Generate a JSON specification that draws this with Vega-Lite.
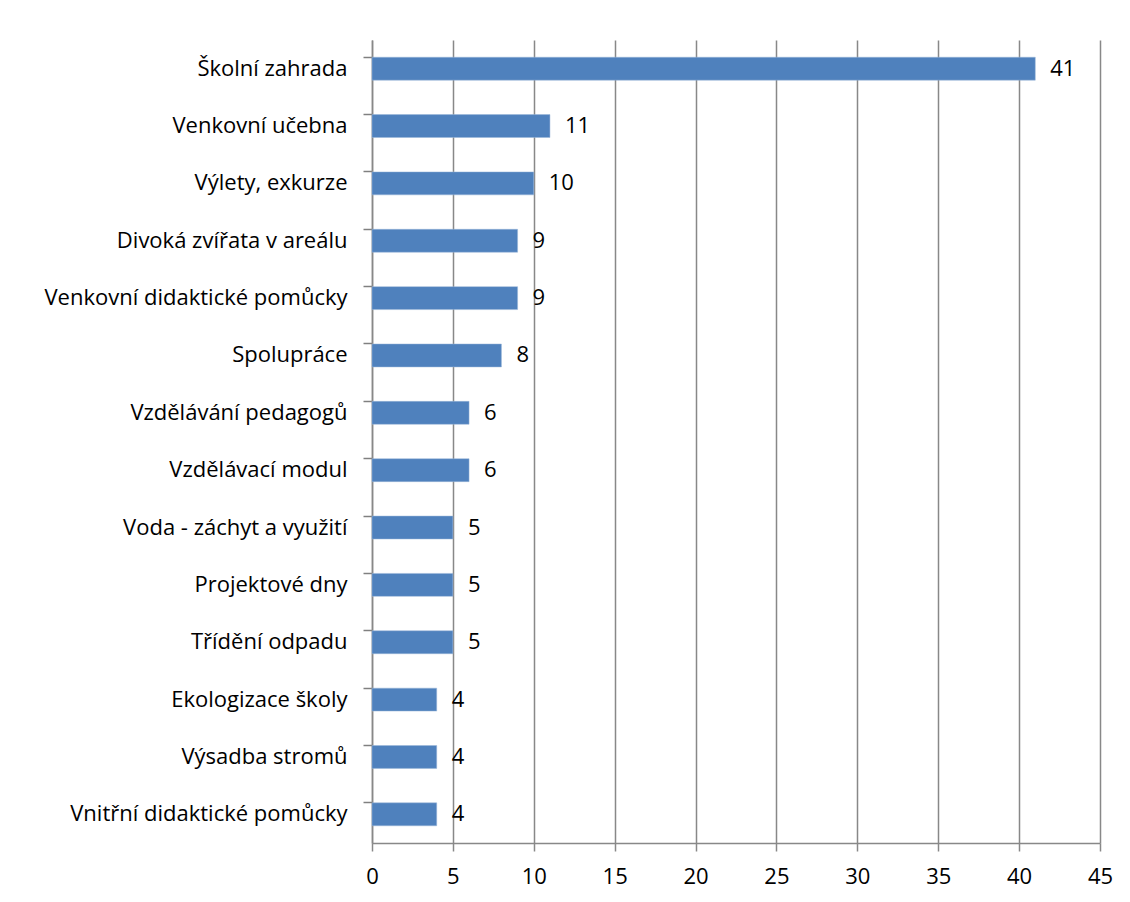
{
  "$schema": "https://vega.github.io/schema/vega-lite/v6.json",
  "autosize": {"type": "none"},
  "padding": {"left": 372, "top": 40, "right": 30, "bottom": 59},
  "width": 728,
  "height": 803,
  "background": "white",
  "config": {
    "view": {"stroke": null},
    "font": "Open Sans",
    "axis": {"labelFont": "Open Sans", "labelFontSize": 22, "labelColor": "#000000", "labelLimit": 400, "domainColor": "#888888", "tickColor": "#888888", "gridColor": "#888888", "gridWidth": 1.5, "domainWidth": 1.5, "tickWidth": 1.5}
  },
  "data": {
    "values": [
      {"kategorie": "Školní zahrada", "pocet": 41},
      {"kategorie": "Venkovní učebna", "pocet": 11},
      {"kategorie": "Výlety, exkurze", "pocet": 10},
      {"kategorie": "Divoká zvířata v areálu", "pocet": 9},
      {"kategorie": "Venkovní didaktické pomůcky", "pocet": 9},
      {"kategorie": "Spolupráce", "pocet": 8},
      {"kategorie": "Vzdělávání pedagogů", "pocet": 6},
      {"kategorie": "Vzdělávací modul", "pocet": 6},
      {"kategorie": "Voda - záchyt a využití", "pocet": 5},
      {"kategorie": "Projektové dny", "pocet": 5},
      {"kategorie": "Třídění odpadu", "pocet": 5},
      {"kategorie": "Ekologizace školy", "pocet": 4},
      {"kategorie": "Výsadba stromů", "pocet": 4},
      {"kategorie": "Vnitřní didaktické pomůcky", "pocet": 4}
    ]
  },
  "resolve": {"axis": {"y": "independent"}, "scale": {"y": "shared"}},
  "layer": [
    {
      "mark": {"type": "bar", "color": "#4f81bd", "stroke": "#9bb7d9", "strokeWidth": 0.5},
      "encoding": {
        "y": {
          "field": "kategorie", "type": "nominal", "sort": null,
          "scale": {"paddingInner": 0.6, "paddingOuter": 0.3},
          "axis": {"title": null, "orient": "left", "ticks": false, "domain": false, "labelPadding": 25, "grid": false}
        },
        "x": {
          "field": "pocet", "type": "quantitative",
          "scale": {"domain": [0, 45], "nice": false},
          "axis": {"title": null, "values": [0, 5, 10, 15, 20, 25, 30, 35, 40, 45], "tickSize": 8, "labelPadding": 15, "grid": true, "labelFlush": false}
        }
      }
    },
    {
      "mark": {"type": "text", "align": "left", "dx": 15, "fontSize": 22, "font": "Open Sans", "color": "#000000"},
      "encoding": {
        "y": {
          "field": "kategorie", "type": "nominal", "sort": null,
          "axis": {"title": null, "orient": "left", "labels": false, "ticks": true, "tickSize": 9, "tickColor": "#808080", "bandPosition": 0, "domain": true, "grid": false}
        },
        "x": {"field": "pocet", "type": "quantitative"},
        "text": {"field": "pocet"}
      }
    }
  ]
}
